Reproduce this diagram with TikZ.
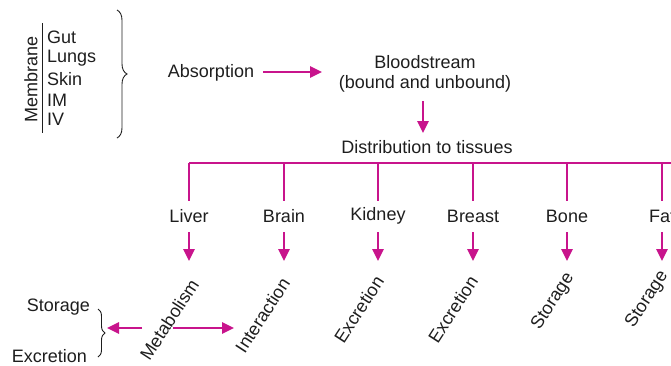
\documentclass[tikz,border=0pt]{standalone}
\usepackage{fontspec}
\setmainfont{Liberation Sans}
\usetikzlibrary{arrows.meta,decorations.pathreplacing}
\definecolor{mag}{RGB}{200,20,140}
\definecolor{ink}{RGB}{30,30,30}
\begin{document}
\begin{tikzpicture}[x=1pt,y=-1pt,
 lbl/.style={font=\fontsize{18}{20}\selectfont, text=ink, inner sep=1pt},
 rot/.style={lbl, rotate=57, anchor=east},
 conn/.style={draw=mag, line width=2.6pt},
 arr/.style={conn, -{Triangle[length=12pt,width=11pt]}},
 brc/.style={draw=ink, line width=0.9pt, decorate, decoration={brace, amplitude=#1}}]
\useasboundingbox (0,0) rectangle (671,365);
\clip (0,0) rectangle (671,365);
% membrane group
\node[lbl, rotate=90] (membrane) at (31,79) {Membrane};
\draw[ink, line width=0.9pt] (42,23) -- (42,133);
\node[lbl, anchor=west] (gut) at (46,37) {Gut};
\node[lbl, anchor=west] (lungs) at (46,58) {Lungs};
\node[lbl, anchor=west] (skin) at (46,79) {Skin};
\node[lbl, anchor=west] (im) at (46,100) {IM};
\node[lbl, anchor=west] (iv) at (46,119) {IV};
\draw[brc=10pt] (117,10) -- (117,138);
% top flow
\node[lbl] (abs) at (211,73) {Absorption};
\node[lbl, align=center] (blood) at (425,74) {Bloodstream\\(bound and unbound)};
\node[lbl] (dist) at (427,147) {Distribution to tissues};
\coordinate (a1) at (263,72);
\coordinate (a2) at (322,72);
\draw[arr] (a1) -- (a2);
\coordinate (b1) at (423,101);
\coordinate (b2) at (423,133);
\draw[arr] (b1) -- (b2);
% bus
\coordinate (busL) at (189,163);
\coordinate (busR) at (680,163);
\draw[conn] (busL) -- (busR);
% tissues
\foreach \n/\t/\x in {liver/Liver/189, brain/Brain/284, kidney/Kidney/378, breast/Breast/473, bone/Bone/567, fat/Fat/662}{
  \node[lbl] (\n) at (\x,216) {\t};
  \coordinate (\n top) at (\x,163);
  \coordinate (\n bot) at (\x,201);
  \draw[conn] (\n top) -- (\n bot);
  \coordinate (\n a) at (\x,232);
  \coordinate (\n b) at (\x,261);
  \draw[arr] (\n a) -- (\n b);
}
% rotated outcomes
\node[rot] (met) at (195,280) {Metabolism};
\node[rot] (inter) at (286,279) {Interaction};
\node[rot] (exk) at (380,277) {Excretion};
\node[rot] (exb) at (474,277) {Excretion};
\node[rot] (stb) at (571,274) {Storage};
\node[rot] (stf) at (665,272) {Storage};
% left
\node[lbl, anchor=east] (sto) at (91,307) {Storage};
\node[lbl, anchor=east] (exc) at (88,356) {Excretion};
\draw[brc=7pt] (98,309) -- (98,357);
\coordinate (l1) at (142,328);
\coordinate (l2) at (107,328);
\draw[arr] (l1) -- (l2);
\coordinate (r1) at (173,328);
\coordinate (r2) at (234,328);
\draw[arr] (r1) -- (r2);
\end{tikzpicture}
\end{document}
